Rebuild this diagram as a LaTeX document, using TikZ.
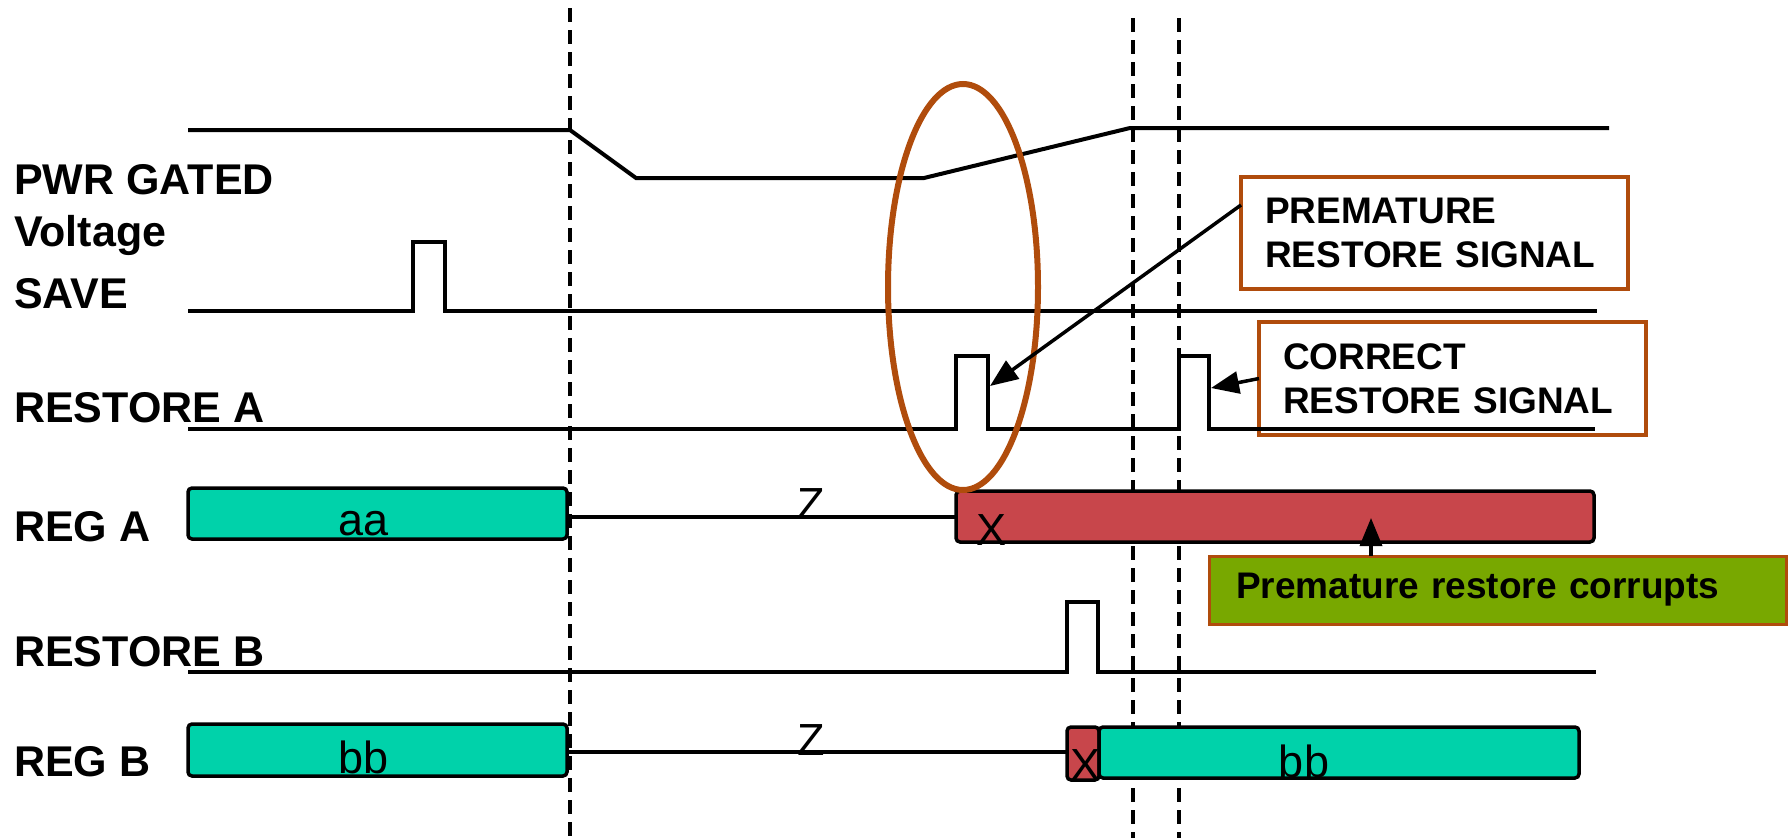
\documentclass[tikz,border=0pt]{standalone}
\usepackage{fontspec}
\setmainfont{Liberation Sans}
\usetikzlibrary{arrows.meta,calc}
\definecolor{tealfill}{RGB}{0,210,170}
\definecolor{redfill}{RGB}{200,70,75}
\definecolor{greenfill}{RGB}{120,168,0}
\definecolor{brownline}{RGB}{176,76,12}
\begin{document}
\begin{tikzpicture}[x=1pt,y=-1pt,
  sig/.style={line width=4pt, line join=miter},
  guide/.style={line width=4pt, dash pattern=on 14pt off 8pt},
  lbl/.style={anchor=base west, inner sep=0pt, font=\fontsize{43}{50}\selectfont\bfseries},
  val/.style={anchor=base, inner sep=0pt, font=\fontsize{45}{54}\selectfont},
  regbox/.style={draw=black, line width=3.5pt, rounded corners=4pt},
  callout/.style={draw=brownline, line width=4pt, fill=white, align=left,
     font=\fontsize{37}{44}\selectfont\bfseries, inner xsep=24pt, inner ysep=0pt,
     anchor=north west, outer sep=0pt},
  ptr/.style={line width=3.5pt, -{Triangle[length=28pt,width=22pt]}}
]
\useasboundingbox (0,0) rectangle (1789,838);

% guide lines
\draw[guide] (570,8) -- (570,838);
\draw[guide] (1133,18) -- (1133,838);
\draw[guide] (1179,18) -- (1179,838);

% callouts
\node[callout, minimum width=387pt, minimum height=112pt, text width=339pt] (c1) at (1241,177)
  {PREMATURE\\RESTORE SIGNAL};
\node[callout, minimum width=387pt, minimum height=113pt, text width=339pt] (c2) at (1259,322)
  {CORRECT\\RESTORE SIGNAL};

% labels
\node[lbl] (lpwr) at (14,194) {PWR GATED};
\node[lbl] (lvolt) at (14,246) {Voltage};
\node[lbl] (lsave) at (14,308) {SAVE};
\node[lbl] (lra) at (14,422) {RESTORE A};
\node[lbl] (lrega) at (14,541) {REG A};
\node[lbl] (lrb) at (14,666) {RESTORE B};
\node[lbl] (lregb) at (14,776) {REG B};

% signals
\draw[sig] (188,130) -- (570,130) -- (636,178) -- (924,178) -- (1130,128) -- (1609,128);
\draw[sig] (188,311) -- (413,311) -- (413,242) -- (445,242) -- (445,311) -- (1597,311);
\draw[sig] (188,429) -- (956,429) -- (956,356) -- (988,356) -- (988,429) -- (1179,429)
  -- (1179,356) -- (1209,356) -- (1209,429) -- (1595,429);
\draw[sig] (188,672) -- (1067,672) -- (1067,602) -- (1098,602) -- (1098,672) -- (1596,672);

% REG A
\draw[regbox, fill=tealfill] (188,488) rectangle (567,539);
\draw[sig] (567,517) -- (956,517);
\draw[regbox, fill=redfill] (956,491) rectangle (1594,542);
\node[val] (va) at (364,535) {aa};
\node[val] (za) at (811,519) {Z};
\node[val] (xa) at (991,545) {X};

% REG B
\draw[regbox, fill=tealfill] (188,724) rectangle (567,776);
\draw[sig] (567,752) -- (1067,752);
\draw[regbox, fill=redfill] (1067,727) rectangle (1099,780);
\draw[regbox, fill=tealfill] (1099,727) rectangle (1579,778);
\node[val] (vb1) at (364,773) {bb};
\node[val] (zb) at (811,755) {Z};
\node[val] (xb) at (1085,780) {X};
\node[val] (vb) at (1304,777) {bb};

% ellipse highlight
\draw[brownline, line width=6pt] (963,287) ellipse [x radius=75, y radius=203];

% green note
\node[callout, draw=brownline, line width=3pt, fill=greenfill, minimum width=577pt, minimum height=68pt,
  text width=523pt, inner xsep=27pt] (g) at (1209,556) {Premature restore corrupts};

% arrows
\coordinate (t1) at (990,386);
\coordinate (t2) at (1211,388);
\coordinate (t3) at (1371,518);
\draw[ptr] ($(c1.north west)!0.25!(c1.south west)$) -- (t1);
\draw[ptr] (c2.west) -- (t2);
\draw[ptr] (g.north -| t3) -- (t3);
\end{tikzpicture}
\end{document}
